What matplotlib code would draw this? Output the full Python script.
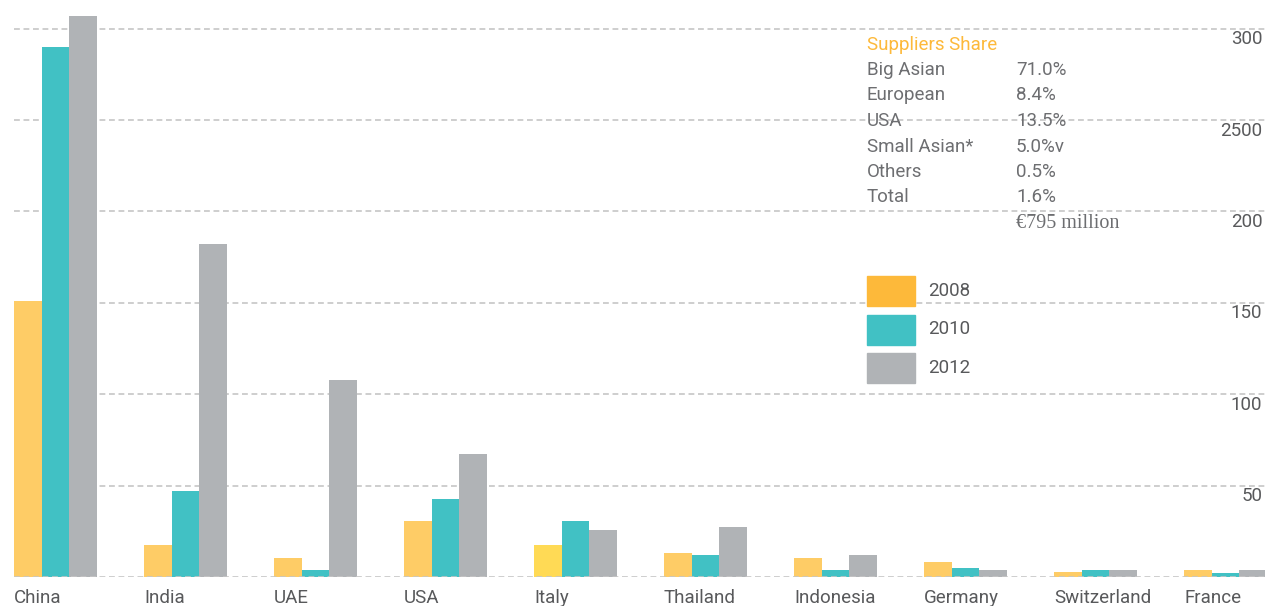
import matplotlib
matplotlib.use("Agg")
import matplotlib.pyplot as plt
from matplotlib.patches import Rectangle
import numpy as np

countries = ["China", "India", "UAE", "USA", "Italy", "Thailand", "Indonesia",
             "Germany", "Switzerland", "France"]
v2008 = [151, 17.5, 10.4, 30.6, 17.5, 13.1, 10.4, 8.2, 2.6, 3.8]
v2010 = [290, 47, 3.8, 42.7, 30.6, 12.0, 3.8, 5.1, 3.8, 2.2]
v2012 = [307, 182, 108, 67.3, 25.7, 27.4, 12.0, 4.0, 3.8, 3.8]
years = ["2008", "2010", "2012"]
ytick_vals = [50, 100, 150, 200, 250, 300]
ytick_labels = ["50", "100", "150", "200", "2500", "300"]
share_title = "Suppliers Share"
share_names = ["Big Asian", "European", "USA", "Small Asian*", "Others", "Total"]
share_vals = ["71.0%", "8.4%", "13.5%", "5.0%v", "0.5%", "1.6%"]
total_text = "€795 million"

c2008 = "#FECC66"
c2008_italy = "#FFDA55"
c2008_leg = "#FDB93A"
c2010 = "#41C1C4"
c2012 = "#B0B3B6"
txt = "#6D6E71"
FONT = ["Roboto", "DejaVu Sans"]
FS = 13.5

W, H = 1265, 606
fig = plt.figure(figsize=(W / 100, H / 100), dpi=100)
fig.patch.set_facecolor("white")

ax = fig.add_axes([14 / W, (H - 577) / H, (W - 14) / W, 577 / H])
ax.set_facecolor("white")
px_per_unit = 1.828
ax.set_ylim(0, 577 / px_per_unit)
gsp = 130.0
xr = (W - 14) / gsp
ax.set_xlim(0, xr)
bw = 27.5 / gsp

x = np.arange(len(countries))
cols08 = [c2008_italy if c == "Italy" else c2008 for c in countries]
ax.bar(x, v2008, width=bw, align="edge", color=cols08, zorder=2, linewidth=0)
ax.bar(x + bw, v2010, width=bw, align="edge", color=c2010, zorder=2, linewidth=0)
ax.bar(x + 2 * bw, v2012, width=bw, align="edge", color=c2012, zorder=2, linewidth=0)

for yv in [0] + ytick_vals:
    ax.axhline(yv, color="#C6C6C6", lw=1.2, ls=(0, (3.5, 2.2)), zorder=3 if yv == 0 else 1)

for s in ax.spines.values():
    s.set_visible(False)
ax.set_xticks([])
ax.set_yticks([])

for yv, lab in zip(ytick_vals, ytick_labels):
    ax.text(xr - 0.02, yv - 10.5 / px_per_unit, lab, ha="right", va="center",
            fontsize=FS, color="#58595B", family=FONT, transform=ax.transData)

for i, c in enumerate(countries):
    fig.text((14 + gsp * i) / W, 1 - 598 / H, c, ha="left", va="center",
             fontsize=FS, color="#58595B", family=FONT)

fig.text(867 / W, 1 - 45 / H, share_title, ha="left", va="center",
         fontsize=FS, color=c2008_leg, family=FONT)
for k, (n, v) in enumerate(zip(share_names, share_vals)):
    yy = 70 + k * 25.5
    fig.text(867 / W, 1 - yy / H, n, ha="left", va="center",
             fontsize=FS, color=txt, family=FONT)
    fig.text(1016 / W, 1 - yy / H, v, ha="left", va="center",
             fontsize=FS, color=txt, family=FONT)
fig.text(1016 / W, 1 - 223 / H, total_text, ha="left", va="center",
         fontsize=14.5, color=txt, family=["Liberation Serif", "DejaVu Serif"])

leg_cols = [c2008_leg, c2010, c2012]
for k, (yr, cc) in enumerate(zip(years, leg_cols)):
    top = 276 + k * 38.5
    fig.patches.append(Rectangle((867 / W, 1 - (top + 30) / H), 48 / W, 30 / H,
                                 transform=fig.transFigure, color=cc, zorder=5))
    fig.text(928 / W, 1 - (top + 15) / H, yr, ha="left", va="center",
             fontsize=FS, color="#58595B", family=FONT)

fig.savefig("out.png", dpi=100, facecolor="white")
